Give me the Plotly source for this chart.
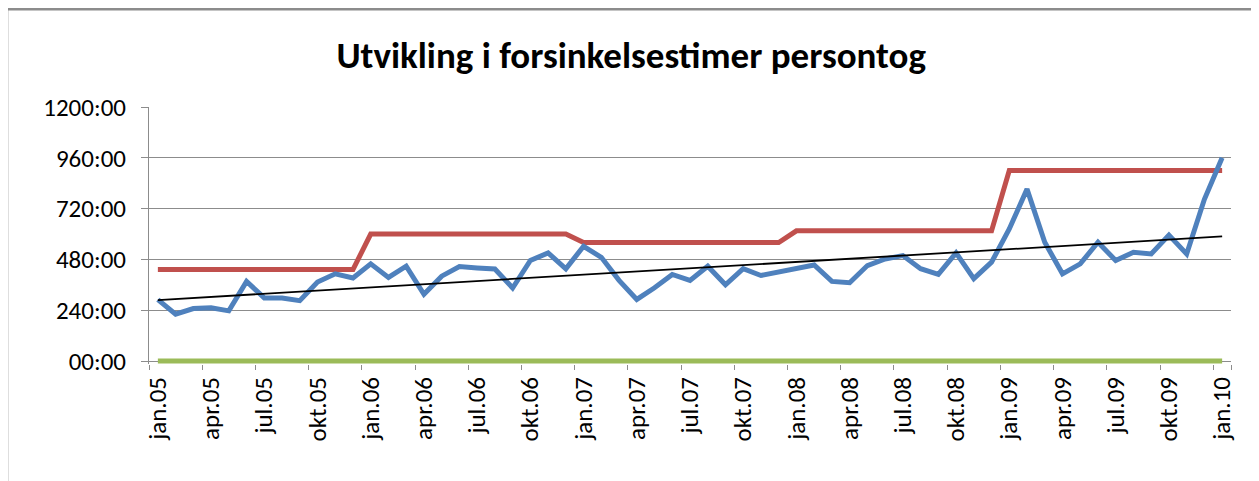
import numpy as np
import plotly.graph_objects as go

MONTHS = ["jan", "feb", "mar", "apr", "mai", "jun", "jul", "aug", "sep", "okt", "nov", "des"]
YEARS = ["05", "06", "07", "08", "09", "10"]
periods = [f"{m}.{y}" for y in YEARS for m in MONTHS][:61]  # jan.05 .. jan.10

# delay hours per month
delay_hours = [
    290, 221, 248, 252, 237, 376, 298, 298, 285, 373, 412, 392,
    459, 395, 448, 315, 401, 446, 440, 435, 345, 475, 511, 436,
    542, 490, 381, 291, 346, 409, 381, 448, 360, 436, 404, 420,
    436, 454, 376, 370, 451, 482, 498, 436, 409, 511, 389, 467,
    624, 812, 561, 412, 459, 561, 475, 514, 506, 595, 506, 764,
    960,
]
target_hours = [
    432, 432, 432, 432, 432, 432, 432, 432, 432, 432, 432, 432,
    600, 600, 600, 600, 600, 600, 600, 600, 600, 600, 600, 600,
    560, 560, 560, 560, 560, 560, 560, 560, 560, 560, 560, 560,
    615, 615, 615, 615, 615, 615, 615, 615, 615, 615, 615, 615,
    900, 900, 900, 900, 900, 900, 900, 900, 900, 900, 900, 900,
    900,
]
zero_hours = [0] * 61

y_ticks = [0, 240, 480, 720, 960, 1200]
y_ticktext = ["00:00", "240:00", "480:00", "720:00", "960:00", "1200:00"]

# linear trendline (as Excel would add it)
idx = np.arange(len(delay_hours))
slope, intercept = np.polyfit(idx, delay_hours, 1)
trend = intercept + slope * idx

FONT = "Calibri, Carlito, Lato, sans-serif"
GRID = "#8c8c8c"

fig = go.Figure()
fig.add_trace(go.Scatter(x=periods, y=zero_hours, mode="lines",
                         line=dict(color="#9BBB59", width=5)))
fig.add_trace(go.Scatter(x=periods, y=target_hours, mode="lines",
                         line=dict(color="#C0504D", width=5)))
fig.add_trace(go.Scatter(x=periods, y=delay_hours, mode="lines",
                         line=dict(color="#4F81BD", width=5)))
fig.add_trace(go.Scatter(x=periods, y=trend, mode="lines",
                         line=dict(color="#000000", width=1.8)))

# chart-area frame (left and top edges visible, rest cropped)
frame = dict(type="line", xref="paper", yref="paper", line=dict(color="#8c8c8c", width=2.5))
fig.add_shape(**frame, x0=-0.1312, x1=1.2, y0=1.38, y1=1.38)
fig.add_shape(**frame, x0=-0.1312, x1=-0.1312, y0=1.38, y1=-0.6)

fig.update_layout(
    width=1259, height=481,
    margin=dict(l=141, r=36, t=99, b=125),
    paper_bgcolor="white", plot_bgcolor="white",
    showlegend=False,
    font=dict(family=FONT, color="#000000"),
    title=dict(text="<b>Utvikling i forsinkelsestimer persontog</b>",
               x=0.495, xref="container", xanchor="center",
               y=0.902, yref="container", yanchor="middle",
               font=dict(family=FONT, size=37, color="#000000")),
    xaxis=dict(type="category", tickmode="array", tickvals=periods[::3], ticktext=periods[::3],
               tickson="boundaries", ticks="outside", ticklen=5, tickcolor=GRID,
               tickangle=-90, tickfont=dict(size=25), showgrid=False,
               showline=False, range=[-0.5, 60.5], ticklabelstandoff=7),
    yaxis=dict(range=[-14, 1200], tickmode="array", tickvals=y_ticks, ticktext=y_ticktext,
               ticks="outside", ticklen=7, tickcolor=GRID, tickfont=dict(size=25),
               showgrid=True, gridcolor=GRID, gridwidth=1,
               zeroline=True, zerolinecolor=GRID, zerolinewidth=1,
               showline=True, linecolor=GRID, linewidth=1, ticklabelstandoff=10),
)

fig.write_html("out.html")
